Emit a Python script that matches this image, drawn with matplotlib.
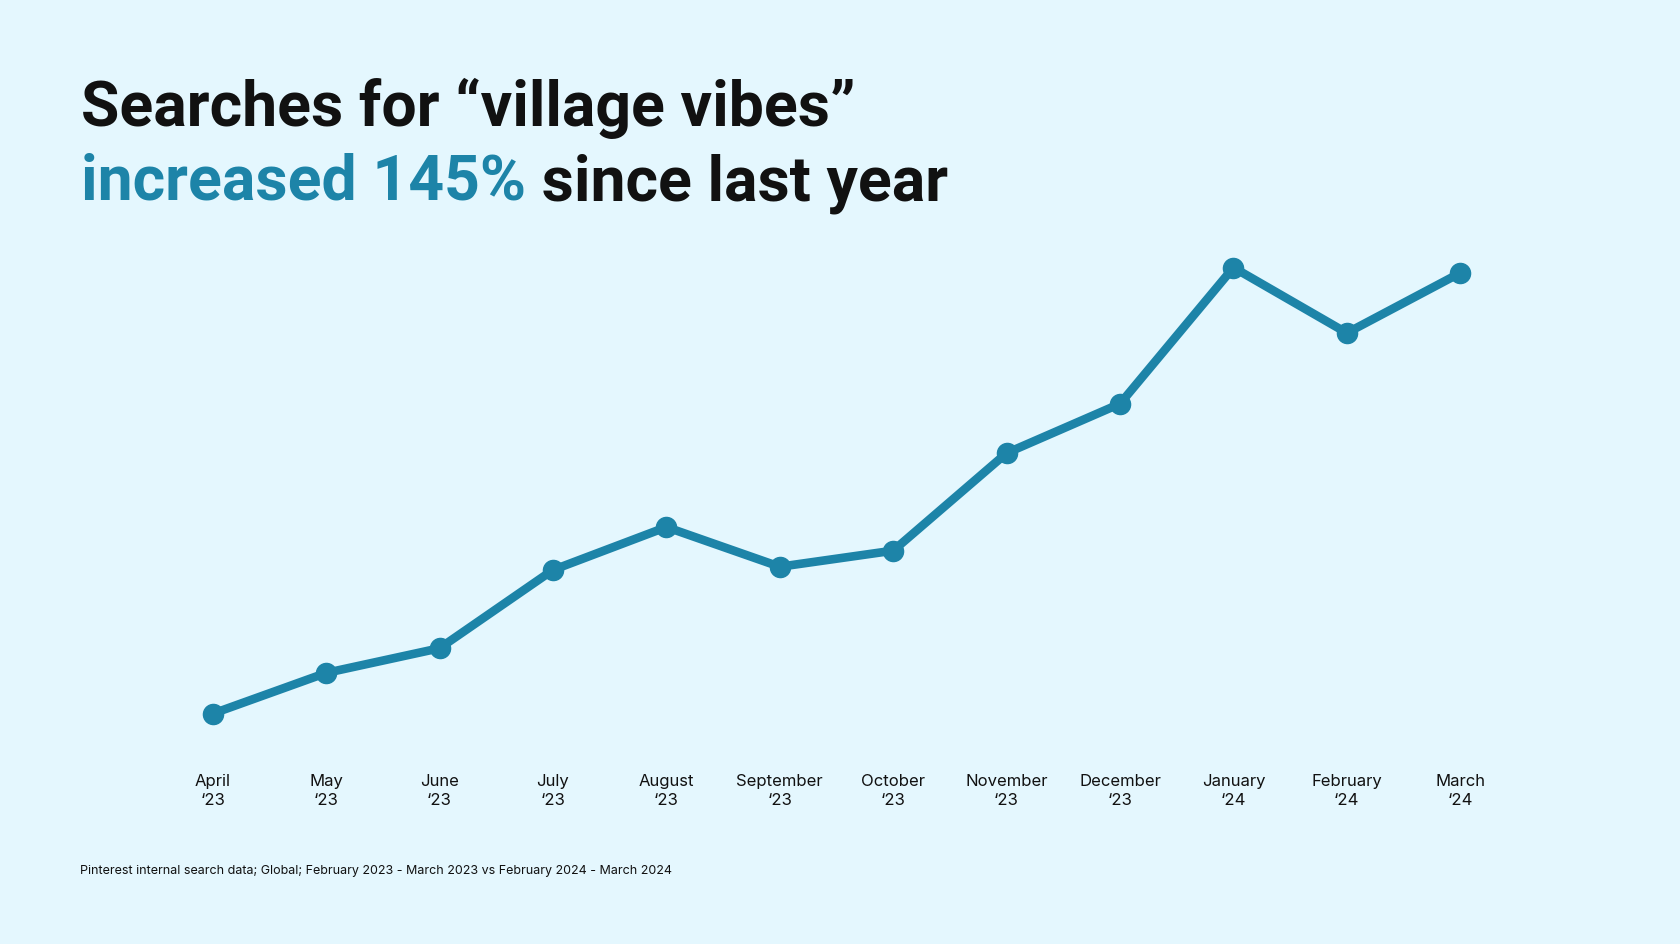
import matplotlib.pyplot as plt

# data (relative search volume; no y axis shown)
months = ["April\n‘23", "May\n‘23", "June\n‘23", "July\n‘23", "August\n‘23",
          "September\n‘23", "October\n‘23", "November\n‘23", "December\n‘23",
          "January\n‘24", "February\n‘24", "March\n‘24"]
searches = [33, 71, 94, 167, 207, 170, 185, 276, 322, 449, 388, 444]

BG = "#e4f7fe"
BLUE = "#1d84a8"
DARK = "#111111"
W, H = 1680, 945

plt.rcParams["font.family"] = ["Inter", "DejaVu Sans"]
TITLE_FONT = ["Roboto", "DejaVu Sans"]

fig = plt.figure(figsize=(16.8, 9.45), dpi=100, facecolor=BG)
ax = fig.add_axes([156 / W, 0.2063, 1361 / W, 0.522])
ax.set_facecolor(BG)

x = list(range(len(months)))
ax.plot(x, searches, color=BLUE, linewidth=6.2, marker="o", markersize=14.5,
        solid_capstyle="round", solid_joinstyle="round", clip_on=False)

ax.set_xlim(-0.5, len(months) - 0.5)
ax.set_ylim(0, 460)
ax.set_xticks(x)
ax.set_xticklabels(months, fontsize=12, color=DARK, linespacing=1.35)
ax.tick_params(axis="x", length=0, pad=17)
ax.set_yticks([])
for s in ax.spines.values():
    s.set_visible(False)

# title, two lines, second line in two colours
fig.text(81 / W, 1 - 126 / H, "Searches for “village vibes”", fontsize=45,
         fontweight="bold", color=DARK, va="baseline", ha="left", family=TITLE_FONT)
t1 = fig.text(81 / W, 1 - 200 / H, "increased 145%", fontsize=45,
              fontweight="bold", color=BLUE, va="baseline", ha="left", family=TITLE_FONT)
fig.canvas.draw()
bb = t1.get_window_extent()
fig.text(bb.x1 / W, 1 - 200 / H, " since last year", fontsize=45,
         fontweight="bold", color=DARK, va="baseline", ha="left", family=TITLE_FONT)

fig.text(80 / W, 1 - 871 / H,
         "Pinterest internal search data; Global; February 2023 - March 2023 vs February 2024 - March 2024",
         fontsize=9, color=DARK, va="center", ha="left")

fig.savefig("out.png", dpi=100, facecolor=BG)
